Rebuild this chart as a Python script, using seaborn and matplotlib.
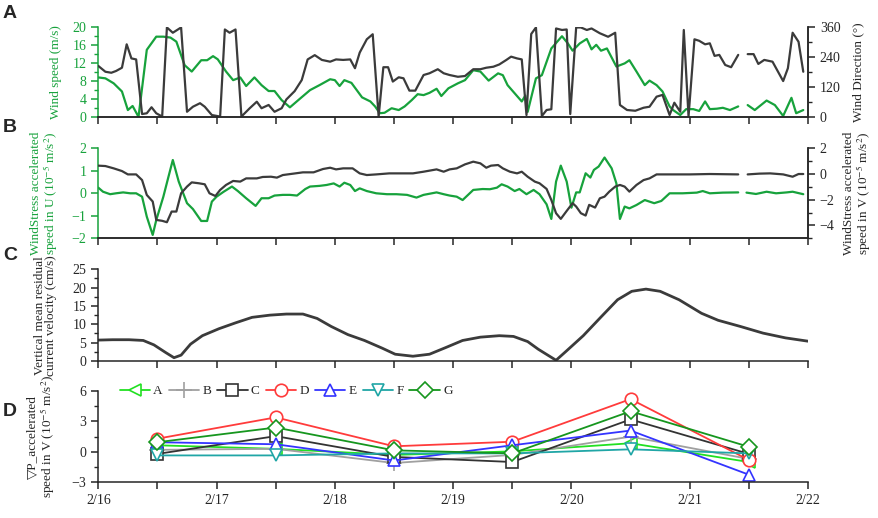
import numpy as np
import pandas as pd
import matplotlib
matplotlib.use("Agg")
from matplotlib import pyplot as plt
from matplotlib.ticker import MultipleLocator
import seaborn as sns

# ---------------- data (day of February) ----------------
nan = np.nan

# panel A: wind speed (m/s)
speed_t = [16.00, 16.06, 16.13, 16.20, 16.25, 16.29, 16.34, 16.41, 16.49, 16.55, 16.61, 16.66,
           16.73, 16.79, 16.87, 16.92, 16.97, 17.01, 17.08, 17.14, 17.20, 17.25, 17.32, 17.38,
           17.44, 17.49, 17.55, 17.62, 17.70, 17.79, 17.87, 17.96, 18.00, 18.04, 18.08, 18.14,
           18.23, 18.30, 18.34, 18.38, 18.42, 18.48, 18.54, 18.59, 18.65, 18.70, 18.75, 18.80,
           18.86, 18.90, 18.96, 19.04, 19.10, 19.17, 19.23, 19.30, 19.38, 19.42, 19.46, 19.52,
           19.58, 19.61, 19.63, 19.70, 19.75, 19.83, 19.92, 19.97, 20.01, 20.07, 20.13, 20.17,
           20.21, 20.25, 20.30, 20.38, 20.45, 20.49, 20.55, 20.62, 20.66, 20.72, 20.77, 20.83,
           20.86, 20.92, 20.97, 21.03, 21.08, 21.13, 21.17, 21.23, 21.28, 21.34, 21.41, 21.45,
           21.49, 21.55, 21.65, 21.72, 21.79, 21.86, 21.90, 21.96]
speed_v = [8.8, 8.6, 7.5, 5.7, 1.6, 2.5, 0.1, 14.9, 17.8, 17.8, 17.6, 16.7,
           11.5, 10.1, 12.6, 12.6, 13.5, 12.8, 10.1, 8.2, 8.8, 6.9, 8.8, 7.1,
           5.8, 5.8, 3.8, 2.2, 4.0, 6.0, 7.1, 8.4, 8.2, 6.9, 8.2, 7.6,
           4.4, 3.5, 2.4, 0.9, 1.0, 2.0, 1.6, 2.4, 3.8, 5.1, 4.9, 5.4,
           6.3, 4.7, 6.4, 7.5, 8.2, 10.4, 10.1, 8.1, 9.7, 9.3, 7.1, 5.3,
           3.5, 4.8, 1.2, 8.6, 9.3, 15.2, 17.9, 16.3, 14.7, 16.3, 17.3, 15.0,
           16.0, 14.7, 15.2, 11.2, 11.9, 12.6, 10.1, 7.1, 8.1, 7.1, 5.7, 2.4,
           1.6, 0.5, 1.8, 1.8, 1.4, 3.5, 1.8, 1.9, 2.1, 1.6, 2.4, nan,
           2.7, 1.6, 3.7, 2.7, 0.3, 4.3, 0.9, 1.6]

# panel A: wind direction (deg)
dir_t = [16.00, 16.06, 16.11, 16.15, 16.20, 16.24, 16.28, 16.32, 16.37, 16.41, 16.45, 16.49,
         16.54, 16.58, 16.63, 16.70, 16.75, 16.80, 16.86, 16.90, 16.96, 17.03, 17.07, 17.11,
         17.16, 17.21, 17.28, 17.34, 17.38, 17.44, 17.49, 17.55, 17.59, 17.66, 17.72, 17.77,
         17.83, 17.89, 17.96, 18.01, 18.07, 18.13, 18.17, 18.21, 18.27, 18.32, 18.37, 18.41,
         18.45, 18.49, 18.54, 18.58, 18.63, 18.68, 18.75, 18.80, 18.87, 18.92, 18.97, 19.04,
         19.10, 19.17, 19.23, 19.28, 19.34, 19.39, 19.45, 19.49, 19.54, 19.58, 19.62, 19.66,
         19.70, 19.75, 19.79, 19.83, 19.87, 19.92, 19.96, 19.99, 20.04, 20.08, 20.13, 20.17,
         20.24, 20.31, 20.37, 20.41, 20.47, 20.54, 20.61, 20.66, 20.72, 20.77, 20.83, 20.87,
         20.92, 20.95, 20.99, 21.04, 21.08, 21.13, 21.17, 21.21, 21.25, 21.30, 21.35, 21.41,
         21.45, 21.49, 21.54, 21.58, 21.63, 21.70, 21.79, 21.83, 21.87, 21.92, 21.96]
dir_v = [204, 181, 177, 184, 197, 290, 234, 230, 13, 16, 40, 16,
         3, 357, 336, 357, 22, 42, 56, 42, 9, 3, 349, 336,
         349, 3, 36, 62, 36, 49, 22, 36, 71, 104, 148, 230,
         247, 228, 221, 230, 228, 230, 195, 257, 310, 330, 3, 199,
         199, 142, 159, 155, 106, 106, 168, 175, 191, 175, 168, 161,
         164, 191, 191, 197, 201, 210, 228, 241, 234, 230, 9, 331,
         357, 5, 29, 32, 353, 347, 349, 13, 357, 357, 347, 353,
         334, 320, 336, 49, 29, 26, 38, 42, 82, 89, 9, 58,
         22, 347, 3, 310, 304, 290, 294, 244, 248, 208, 199, 248,
         nan, 251, 251, 212, 228, 221, 144, 195, 336, 300, 181]

# panel B: wind stress accelerated speed in U (1e-5 m/s2)
u_t = [16.00, 16.04, 16.10, 16.15, 16.21, 16.27, 16.32, 16.37, 16.41, 16.46, 16.49, 16.55,
       16.59, 16.63, 16.68, 16.75, 16.80, 16.87, 16.92, 16.96, 17.00, 17.06, 17.13, 17.18,
       17.25, 17.33, 17.38, 17.44, 17.49, 17.56, 17.62, 17.68, 17.75, 17.79, 17.87, 17.93,
       17.99, 18.04, 18.08, 18.13, 18.17, 18.21, 18.27, 18.35, 18.44, 18.52, 18.61, 18.69,
       18.75, 18.86, 18.92, 18.97, 19.03, 19.08, 19.17, 19.25, 19.31, 19.37, 19.41, 19.46,
       19.52, 19.56, 19.62, 19.68, 19.73, 19.79, 19.83, 19.87, 19.91, 19.96, 20.00, 20.04,
       20.07, 20.12, 20.16, 20.19, 20.23, 20.28, 20.34, 20.38, 20.41, 20.45, 20.49, 20.55,
       20.62, 20.66, 20.70, 20.76, 20.83, 20.94, 21.06, 21.11, 21.17, 21.28, 21.41, 21.45,
       21.48, 21.56, 21.65, 21.73, 21.82, 21.87, 21.96]
u_v = [0.25, 0.07, -0.04, 0.0, 0.04, 0.0, 0.0, -0.15, -1.04, -1.85, -1.19, -0.15,
       0.67, 1.48, 0.52, -0.44, -0.70, -1.23, -1.23, -0.37, -0.15, 0.07, 0.30, 0.10,
       -0.22, -0.56, -0.22, -0.22, -0.10, -0.07, -0.07, -0.10, 0.19, 0.30, 0.33, 0.37,
       0.44, 0.30, 0.47, 0.37, 0.10, 0.22, 0.10, 0.0, -0.04, -0.04, -0.07, -0.19,
       -0.07, 0.04, -0.04, -0.10, -0.15, -0.30, 0.15, 0.19, 0.18, 0.25, 0.40, 0.30,
       0.10, 0.19, -0.04, 0.15, -0.04, -0.49, -1.14, 0.52, 1.23, 0.52, -0.64, 0.04,
       0.04, 0.89, 0.70, 1.04, 1.19, 1.59, 1.11, 0.44, -1.14, -0.59, -0.67, -0.52,
       -0.30, -0.37, -0.44, -0.34, 0.0, 0.0, 0.03, 0.10, 0.0, 0.03, 0.04, nan,
       0.03, -0.03, 0.07, 0.0, 0.04, 0.07, -0.04]

# panel B: wind stress accelerated speed in V (1e-5 m/s2)
v_t = [16.00, 16.06, 16.13, 16.20, 16.25, 16.32, 16.37, 16.41, 16.46, 16.49, 16.54, 16.58,
       16.62, 16.66, 16.70, 16.75, 16.79, 16.85, 16.90, 16.94, 16.99, 17.03, 17.08, 17.14,
       17.20, 17.25, 17.34, 17.39, 17.46, 17.51, 17.56, 17.65, 17.73, 17.82, 17.90, 17.96,
       18.01, 18.07, 18.15, 18.21, 18.27, 18.35, 18.46, 18.58, 18.66, 18.75, 18.86, 18.92,
       18.97, 19.03, 19.10, 19.17, 19.23, 19.28, 19.32, 19.38, 19.42, 19.48, 19.54, 19.58,
       19.63, 19.69, 19.73, 19.79, 19.83, 19.87, 19.91, 19.96, 20.01, 20.04, 20.08, 20.12,
       20.15, 20.20, 20.24, 20.28, 20.32, 20.37, 20.41, 20.45, 20.49, 20.55, 20.61, 20.66,
       20.72, 20.83, 21.00, 21.17, 21.41, 21.45, 21.49, 21.59, 21.68, 21.79, 21.87, 21.92, 21.96]
v_v = [0.65, 0.62, 0.44, 0.23, -0.03, -0.03, -0.47, -1.63, -2.14, -3.57, -3.64, -3.75,
       -2.92, -2.92, -1.50, -0.98, -0.65, -0.72, -0.80, -1.50, -1.71, -1.24, -0.85, -0.54,
       -0.59, -0.34, -0.34, -0.23, -0.21, -0.28, -0.08, 0.03, 0.13, 0.13, 0.39, 0.49,
       0.36, 0.44, 0.44, 0.05, -0.08, -0.03, 0.05, 0.05, 0.05, 0.18, 0.36, 0.18,
       0.36, 0.44, 0.75, 0.96, 0.83, 0.49, 0.65, 0.70, 0.44, 0.18, 0.05, 0.18,
       -0.21, -0.59, -0.72, -1.16, -2.02, -3.05, -3.49, -2.87, -2.27, -2.53, -3.05, -3.23,
       -2.40, -2.61, -1.89, -1.76, -1.37, -0.98, -0.85, -0.98, -1.37, -0.85, -0.47, -0.34,
       -0.03, -0.03, -0.03, 0.0, -0.03, nan, -0.03, 0.03, 0.05, -0.03, -0.21, 0.0, 0.0]

# panel C: vertical mean residual current velocity (cm/s)
cur_t = [16.00, 16.12, 16.26, 16.38, 16.47, 16.57, 16.64, 16.70, 16.78, 16.88, 17.02, 17.16,
         17.30, 17.45, 17.59, 17.73, 17.85, 17.97, 18.11, 18.25, 18.40, 18.51, 18.66, 18.80,
         18.94, 19.08, 19.23, 19.39, 19.51, 19.63, 19.72, 19.81, 19.87, 19.96, 20.10, 20.25,
         20.39, 20.51, 20.63, 20.75, 20.91, 21.10, 21.24, 21.43, 21.62, 21.81, 22.00]
cur_v = [5.7, 5.8, 5.8, 5.6, 4.4, 2.3, 0.9, 1.6, 4.6, 6.9, 8.8, 10.4,
         11.9, 12.5, 12.8, 12.8, 11.6, 9.4, 7.2, 5.6, 3.5, 1.85, 1.3, 1.85,
         3.7, 5.6, 6.5, 6.9, 6.7, 5.3, 3.2, 1.4, 0.2, 2.8, 6.9, 12.0,
         16.7, 19.0, 19.6, 19.0, 16.7, 13.0, 11.1, 9.4, 7.6, 6.3, 5.4]

# panel D: pressure-gradient accelerated speed in V (1e-5 m/s2)
p_days = [16.5, 17.5, 18.5, 19.5, 20.5, 21.5]
p_A = [0.65, 0.30, -0.30, 0.05, 0.85, -1.00]
p_B = [0.20, 0.30, -1.10, -0.30, 1.50, -0.70]
p_C = [-0.20, 1.55, -0.50, -1.00, 3.20, -0.20]
p_D = [1.30, 3.40, 0.55, 1.00, 5.20, -0.80]
p_E = [0.95, 0.75, -0.85, 0.65, 2.10, -2.25]
p_F = [-0.35, -0.35, -0.15, -0.15, 0.25, -0.15]
p_G = [0.95, 2.40, 0.15, -0.15, 4.00, 0.50]

day_ticks = [16, 17, 18, 19, 20, 21, 22]
day_labels = ["2/%d" % d for d in day_ticks]

# ---------------- style ----------------
sns.set_style("ticks")
plt.rcParams["font.family"] = ["Liberation Serif", "DejaVu Serif", "DejaVu Sans"]
plt.rcParams["mathtext.fontset"] = "stix"
plt.rcParams["axes.linewidth"] = 1.1
plt.rcParams["xtick.major.width"] = 1.1
plt.rcParams["ytick.major.width"] = 1.1
plt.rcParams["xtick.minor.width"] = 1.1
plt.rcParams["ytick.minor.width"] = 1.0

GREEN = "#17a23c"
DARK = "#3b3b3b"
FS = 10     # tick labels
LFS = 9.5   # axis titles
LSP = 0.95

W, H = 879, 518
fig = plt.figure(figsize=(W / 100, H / 100), dpi=100)


def make_axes(top, bottom, left=98.3, right=808):
    return fig.add_axes([left / W, 1 - bottom / H, (right - left) / W, (bottom - top) / H])


def split_line(ax, t, v, color, lw):
    df = pd.DataFrame({"t": t, "v": v})
    grp = df["v"].isna().cumsum()
    for _, part in df.dropna().groupby(grp[df["v"].notna()]):
        sns.lineplot(data=part, x="t", y="v", ax=ax, color=color, lw=lw)


def day_axis(ax, labels=False):
    ax.set_xlim(16, 22)
    ax.set_xticks(day_ticks)
    ax.xaxis.set_minor_locator(MultipleLocator(0.5))
    ax.tick_params(axis="x", which="both", direction="out", length=5, labelsize=FS)
    if labels:
        ax.set_xticklabels(day_labels)
    else:
        ax.set_xticklabels([])
    ax.set_xlabel("")
    ax.tick_params(axis="y", which="major", direction="out", length=5, labelsize=FS)
    ax.tick_params(axis="y", which="minor", direction="out", length=3)


def green_left(ax):
    ax.spines["left"].set_color(GREEN)
    ax.tick_params(axis="y", which="both", colors=GREEN)


def right_axis(ax):
    ax.tick_params(axis="y", which="major", direction="out", length=5, labelsize=FS)
    ax.tick_params(axis="y", which="minor", direction="out", length=3)
    ax.spines["top"].set_visible(False)
    ax.spines["left"].set_visible(False)


# ---------------- panel A ----------------
axA = make_axes(26.7, 117.3)
split_line(axA, speed_t, speed_v, GREEN, 1.6)
axA.set_ylim(0, 20)
axA.set_yticks([0, 4, 8, 12, 16, 20])
axA.yaxis.set_minor_locator(MultipleLocator(2))
day_axis(axA)
green_left(axA)
axA.set_ylabel("Wind speed (m/s)", color=GREEN, fontsize=LFS)
axA.yaxis.set_label_coords(-0.051, 0.5)
axA.spines["top"].set_visible(False)

axA2 = axA.twinx()
split_line(axA2, dir_t, dir_v, DARK, 1.6)
axA2.set_ylim(0, 360)
axA2.set_yticks([0, 120, 240, 360])
axA2.yaxis.set_minor_locator(MultipleLocator(60))
right_axis(axA2)
axA2.set_ylabel("Wind Direction (\u00b0)", fontsize=LFS)
axA2.yaxis.set_label_coords(1.063, 0.5)

# ---------------- panel B ----------------
axB = make_axes(148.3, 238.3)
split_line(axB, u_t, u_v, GREEN, 1.6)
axB.set_ylim(-2, 2)
axB.set_yticks([-2, -1, 0, 1, 2])
day_axis(axB)
green_left(axB)
axB.set_ylabel("WindStress accelerated\nspeed in U (10$^{-5}$ m/s$^{2}$)", color=GREEN,
               fontsize=LFS, linespacing=LSP)
axB.yaxis.set_label_coords(-0.054, 0.5)
axB.spines["top"].set_visible(False)

axB2 = axB.twinx()
split_line(axB2, v_t, v_v, DARK, 1.6)
axB2.set_ylim(-5, 2)
axB2.set_yticks([-4, -2, 0, 2])
axB2.yaxis.set_minor_locator(MultipleLocator(1))
right_axis(axB2)
axB2.set_ylabel("WindStress accelerated\nspeed in V (10$^{-5}$ m/s$^{2}$)", fontsize=LFS,
                linespacing=LSP)
axB2.yaxis.set_label_coords(1.049, 0.5)

# ---------------- panel C ----------------
axC = make_axes(269.3, 361)
sns.lineplot(x=cur_t, y=cur_v, ax=axC, color=DARK, lw=2.0)
axC.set_ylim(0, 25)
axC.set_yticks([0, 5, 10, 15, 20, 25])
axC.yaxis.set_minor_locator(MultipleLocator(2.5))
day_axis(axC)
axC.set_ylabel("Vertical mean residual\ncurrent velocity (cm/s)", fontsize=LFS,
               linespacing=LSP)
axC.yaxis.set_label_coords(-0.058, 0.5)
sns.despine(ax=axC)

# ---------------- panel D ----------------
axD = make_axes(391, 482.3)
series = [("A", p_A, "#22e022", "<"), ("B", p_B, "#a0a0a0", "+"),
          ("C", p_C, "#333333", "s"), ("D", p_D, "#ff3b3b", "o"),
          ("E", p_E, "#3434ff", "^"), ("F", p_F, "#20a6a6", "v"),
          ("G", p_G, "#16961e", "D")]
for name, vals, col, mk in series:
    ms = 8 if mk == "D" else 9
    if mk == "+":
        ms = 12
    sns.lineplot(x=p_days, y=vals, ax=axD, color=col, lw=1.3, marker=mk, ms=ms,
                 mfc="white", mec=col, mew=1.2, label=name)
axD.set_ylim(-3, 6)
axD.set_yticks([-3, 0, 3, 6])
axD.yaxis.set_minor_locator(MultipleLocator(1.5))
day_axis(axD, labels=True)
axD.set_ylabel("\u25bdP_accelerated\nspeed in V (10$^{-5}$ m/s$^{2}$)", fontsize=LFS,
               linespacing=LSP)
axD.yaxis.set_label_coords(-0.058, 0.5)
sns.despine(ax=axD)
axD.legend(ncol=7, loc="center left", bbox_to_anchor=(0.03, 1.0), frameon=False,
           handlelength=2.3, handletextpad=0.25, columnspacing=0.45, borderpad=0,
           borderaxespad=0, fontsize=9.5)

# panel letters
for letter, ypix in [("A", 14), ("B", 128), ("C", 256), ("D", 411)]:
    fig.text(3 / W, 1 - ypix / H, letter, fontsize=14, fontweight="bold",
             family="Liberation Sans", va="center", ha="left")

fig.savefig("out.png", dpi=100)
